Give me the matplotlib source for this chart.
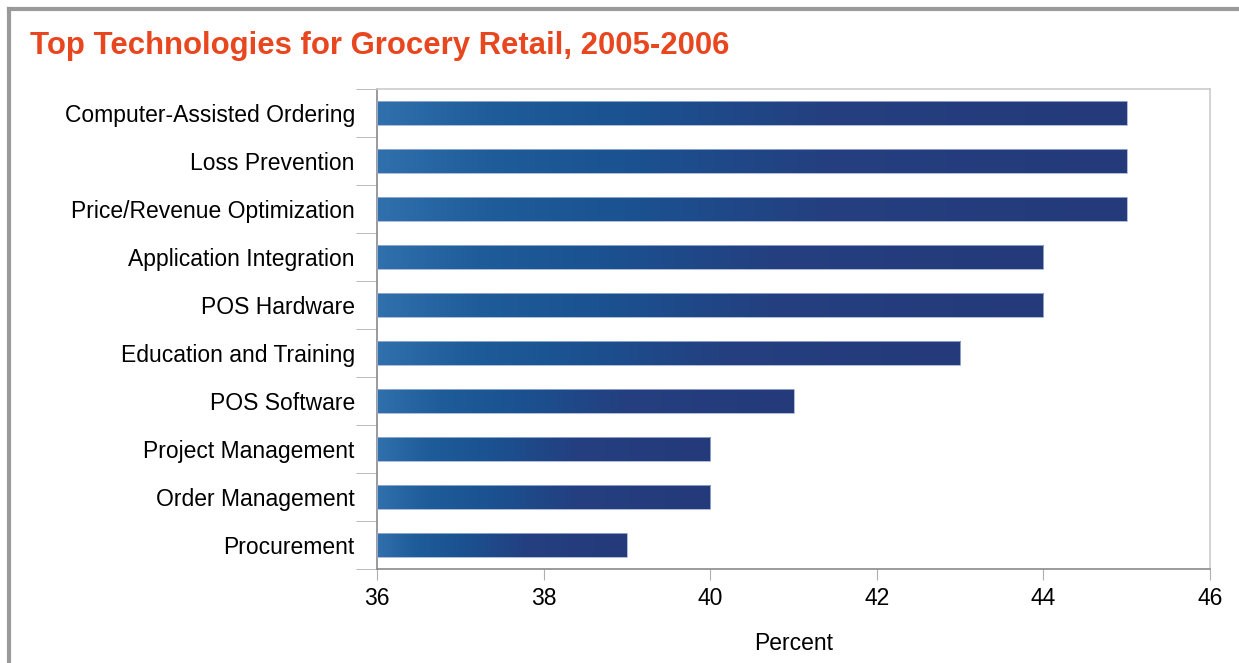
import matplotlib.pyplot as plt
import numpy as np
from matplotlib.colors import LinearSegmentedColormap
from matplotlib.lines import Line2D

plt.rcParams['font.family'] = ['Liberation Sans', 'DejaVu Sans']

# Data
TITLE = "Top Technologies for Grocery Retail, 2005-2006"
X_LABEL = "Percent"
CATEGORIES = ["Computer-Assisted Ordering", "Loss Prevention",
              "Price/Revenue Optimization", "Application Integration",
              "POS Hardware", "Education and Training", "POS Software",
              "Project Management", "Order Management", "Procurement"]
VALUES = [45, 45, 45, 44, 44, 43, 41, 40, 40, 39]
X_TICKS = [36, 38, 40, 42, 44, 46]

BAR_CMAP = LinearSegmentedColormap.from_list(
    "bar", [(0.0, "#3070ad"), (0.15, "#1e5c9a"), (0.35, "#1b5190"),
            (0.6, "#243f80"), (1.0, "#253a7a")])

fig = plt.figure(figsize=(12.39, 6.63), dpi=100)
ax = fig.add_axes([377 / 1239, 1 - 569 / 663, 833 / 1239, 480 / 663])

n = len(CATEGORIES)
ys = np.arange(n)[::-1]
bar_h = 0.5
grad = np.linspace(0, 1, 256).reshape(1, -1)

for y, v in zip(ys, VALUES):
    ax.imshow(grad, cmap=BAR_CMAP, aspect='auto', interpolation='bilinear',
              extent=[36, v, y - bar_h / 2, y + bar_h / 2], zorder=2)
    ax.add_patch(plt.Rectangle((36, y - bar_h / 2), v - 36, bar_h,
                               fill=False, edgecolor='#9fb2d3', lw=0.6, zorder=3))

ax.set_xlim(36, 46)
ax.set_ylim(-0.5, n - 0.5)
ax.set_xticks(X_TICKS)
ax.set_xticklabels([str(t) for t in X_TICKS], fontsize=16.5)
ax.tick_params(axis='x', length=8, color='#b0b0b0', pad=5)

# category labels centred on bars, tick marks on slot borders
ax.set_yticks(ys)
ax.set_yticklabels(CATEGORIES, fontsize=16.5)
ax.tick_params(axis='y', length=0, pad=16)
ax.set_yticks(np.arange(n + 1) - 0.5, minor=True)
ax.tick_params(axis='y', which='minor', length=15, color='#b0b0b0')

ax.set_xlabel(X_LABEL, fontsize=16.5, labelpad=16)

for s in ['top', 'right']:
    ax.spines[s].set_color('#cccccc')
for s in ['left', 'bottom']:
    ax.spines[s].set_color('#8a8a8a')
for s in ax.spines.values():
    s.set_linewidth(1.2)

fig.text(30 / 1239, 1 - 46 / 663, TITLE, color='#e8461e', fontsize=22.4,
         fontweight='bold', va='center', ha='left')

# outer frame (top and left edges visible)
fig.add_artist(Line2D([9 / 1239, 1], [1 - 9 / 663, 1 - 9 / 663],
                      color='#9a9a9a', lw=3, transform=fig.transFigure))
fig.add_artist(Line2D([9 / 1239, 9 / 1239], [0, 1 - 9 / 663],
                      color='#9a9a9a', lw=3, transform=fig.transFigure))

fig.savefig("out.png", dpi=100)
